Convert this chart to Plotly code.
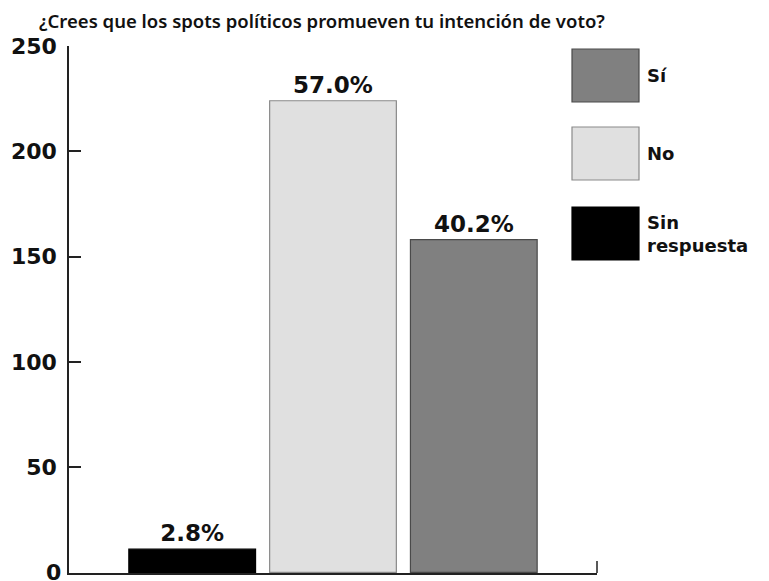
import plotly.graph_objects as go

title = "¿Crees que los spots políticos promueven tu intención de voto?"
categories = ["Sin respuesta", "No", "Sí"]
counts = [11, 224, 158]
pct_labels = ["2.8%", "57.0%", "40.2%"]
colors = ["#000000", "#e0e0e0", "#808080"]
borders = ["#000000", "#8a8a8a", "#4a4a4a"]
legend_order = ["Sí", "No", "Sin respuesta"]
legend_text = ["Sí", "No", "Sin<br>respuesta"]
y_ticks = [0, 50, 100, 150, 200, 250]

FONT = "DejaVu Sans"

fig = go.Figure()
for cat, val, lab, col, bc in zip(categories, counts, pct_labels, colors, borders):
    fig.add_trace(go.Bar(
        x=[0], y=[val], name=cat, text=[lab], textposition="outside",
        cliponaxis=False,
        textfont=dict(family=FONT, size=23, color="#111", weight="bold"),
        marker=dict(color=col, line=dict(color=bc, width=1.2)),
        showlegend=False,
    ))

L, R, T, B = 69, 172, 46, 8
W, H = 769, 581
pw, ph = W - L - R, H - T - B

def px(x):
    return (x - L) / pw

def py(y):
    return (H - B - y) / ph

# manual legend
box_tops = [49, 127, 207]
for name, txt, top in zip(legend_order, legend_text, box_tops):
    i = categories.index(name)
    fig.add_shape(type="rect", xref="paper", yref="paper",
                  x0=px(572), x1=px(639), y0=py(top + 53), y1=py(top),
                  fillcolor=colors[i], line=dict(color=borders[i], width=1.2))
    fig.add_annotation(xref="paper", yref="paper", x=px(645), y=py(top + 26.5),
                       text=txt, showarrow=False, xanchor="left", yanchor="middle",
                       align="left",
                       font=dict(family=FONT, size=18, color="#111", weight="bold"))

fig.add_annotation(xref="paper", yref="paper", x=px(322), y=py(20),
                   text=title, showarrow=False, xanchor="center", yanchor="middle",
                   font=dict(family="Noto Sans", size=18.5, color="#111", weight=600))

# zero tick label (plotly hides it at the bottom edge)
fig.add_annotation(xref="paper", yref="y", x=px(63), y=y_ticks[0],
                   text=str(y_ticks[0]), showarrow=False, xanchor="right",
                   yanchor="middle",
                   font=dict(family=FONT, size=22, color="#111", weight="bold"))

# right-end tick of the x axis
fig.add_shape(type="line", xref="paper", yref="paper",
              x0=1, x1=1, y0=0, y1=py(561),
              line=dict(color="#222", width=1.5))

fig.update_layout(
    width=W, height=H,
    margin=dict(l=L, r=R, t=T, b=B, pad=0),
    plot_bgcolor="white", paper_bgcolor="white",
    barmode="group", bargap=0.2, bargroupgap=0.1,
    xaxis=dict(range=[-0.5, 0.5], showgrid=False, zeroline=False,
               showline=True, linecolor="#222", linewidth=1.5,
               showticklabels=False, ticks=""),
    yaxis=dict(range=[-0.3, 250], tickvals=y_ticks, showgrid=False, zeroline=False,
               showline=True, linecolor="#222", linewidth=1.5,
               ticks="inside", ticklen=12, tickwidth=1.5, tickcolor="#222",
               tickfont=dict(family=FONT, size=22, color="#111", weight="bold"),
               ticklabelstandoff=6),
    showlegend=False,
)

fig.write_html("out.html")
